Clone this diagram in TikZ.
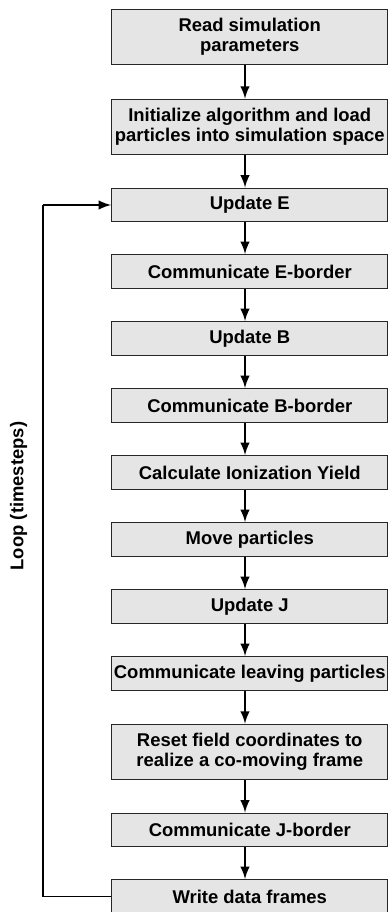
\documentclass[tikz,border=0pt]{standalone}
\usepackage{fontspec}
\setmainfont{Liberation Sans}
\begin{document}
\begin{tikzpicture}[x=0.02cm, y=-0.02cm,
        stepbox/.style={draw=black!85, line width=0.6pt, fill=gray!20, minimum width=157.3pt, minimum height=19.3pt, inner sep=0pt, align=center, font=\fontsize{10.5}{11.5}\selectfont\bfseries},
        tallbox/.style={stepbox, minimum height=31.7pt},
        flow/.style={line width=1.4pt, -latex}]
        \useasboundingbox (0,0) rectangle (389,912);
        \coordinate (ax) at (245,0);
        \node[tallbox] (read) at (249.75,37) {Read simulation\\parameters};
        \node[tallbox] (init) at (249.75,127) {Initialize algorithm and load\\particles into simulation space};
        \node[stepbox] (updE) at (249.75,205) {Update E};
        \node[stepbox] (commE) at (249.75,271.5) {Communicate E-border};
        \node[stepbox] (updB) at (249.75,338.5) {Update B};
        \node[stepbox] (commB) at (249.75,405.5) {Communicate B-border};
        \node[stepbox] (ion) at (249.75,472.5) {Calculate Ionization Yield};
        \node[stepbox] (move) at (249.75,539.5) {Move particles};
        \node[stepbox] (updJ) at (249.75,606.5) {Update J};
        \node[stepbox] (leave) at (249.75,673.5) {Communicate leaving particles};
        \node[tallbox] (reset) at (249.75,752) {Reset field coordinates to\\realize a co-moving frame};
        \node[stepbox] (commJ) at (249.75,830) {Communicate J-border};
        \node[stepbox] (write) at (249.75,896.5) {Write data frames};
        \foreach \a/\b in {read/init, init/updE, updE/commE, commE/updB, updB/commB, commB/ion, ion/move, move/updJ, updJ/leave, leave/reset, reset/commJ, commJ/write}
            \draw[flow] (\a.south -| ax) -- (\b.north -| ax);
        \coordinate (corner) at (43,205);
        \draw[line width=0.6pt] (write.west) -| (corner);
        \draw[flow] (corner) -- (updE.west);
        \node[rotate=90, font=\fontsize{10.5}{11.5}\selectfont\bfseries] (looplabel) at (18.5,496) {Loop (timesteps)};
    \end{tikzpicture}
\end{document}
